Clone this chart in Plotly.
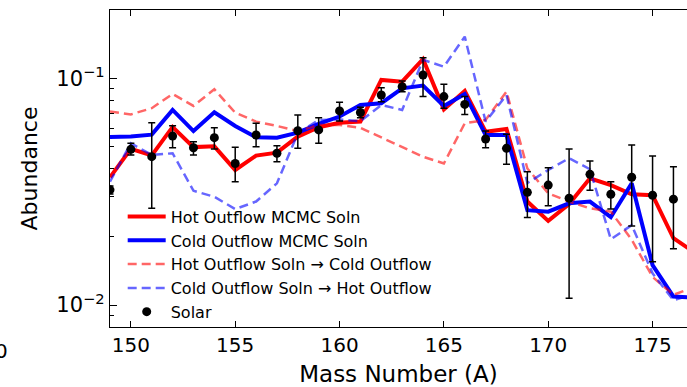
import plotly.graph_objects as go

# Mass numbers
mass_lines = list(range(149, 178))
mass_solar = list(range(149, 177))

# Solar r-process abundances with asymmetric uncertainties
solar = [0.0322, 0.0486, 0.0451, 0.0556, 0.0494, 0.0547, 0.0421, 0.0562, 0.0467, 0.0587,
         0.0592, 0.0718, 0.0706, 0.0844, 0.0918, 0.1034, 0.0830, 0.0767, 0.0540, 0.0491,
         0.0314, 0.0338, 0.0296, 0.0377, 0.0308, 0.0366, 0.0305, 0.0293]
solar_hi = [0.0335, 0.0517, 0.0637, 0.0618, 0.0525, 0.0605, 0.0496, 0.0633, 0.0504, 0.0689,
            0.0670, 0.0784, 0.0745, 0.0909, 0.0973, 0.1233, 0.0941, 0.0830, 0.0586, 0.0567,
            0.0387, 0.0403, 0.0488, 0.0432, 0.0350, 0.0508, 0.0454, 0.0407]
solar_lo = [0.0309, 0.0459, 0.0267, 0.0494, 0.0459, 0.0488, 0.0350, 0.0499, 0.0428, 0.0491,
            0.0517, 0.0648, 0.0670, 0.0788, 0.0873, 0.0830, 0.0738, 0.0693, 0.0494, 0.0418,
            0.0243, 0.0274, 0.0107, 0.0321, 0.0265, 0.0223, 0.0155, 0.0177]

# Model abundance patterns
hot_mcmc = [0.0366, 0.0488, 0.0457, 0.0610, 0.0497, 0.0501, 0.0394, 0.0456, 0.0470, 0.0553,
            0.0608, 0.0637, 0.0644, 0.0983, 0.0966, 0.1213, 0.0729, 0.0879, 0.0581, 0.0597,
            0.0286, 0.0235, 0.0279, 0.0362, 0.0338, 0.0308, 0.0305, 0.0197, 0.0171]
cold_mcmc = [0.0551, 0.0553, 0.0564, 0.0725, 0.0585, 0.0708, 0.0616, 0.0549, 0.0547, 0.0576,
             0.0629, 0.0678, 0.0762, 0.0776, 0.0903, 0.0928, 0.0755, 0.0853, 0.0562, 0.0562,
             0.0262, 0.0258, 0.0281, 0.0286, 0.0244, 0.0344, 0.0150, 0.0109, 0.0108]
hot_to_cold = [0.0713, 0.0693, 0.0738, 0.0853, 0.0755, 0.0894, 0.0705, 0.0644, 0.0616, 0.0585,
               0.0622, 0.0622, 0.0605, 0.0549, 0.0495, 0.0451, 0.0421, 0.0633, 0.0655, 0.0873,
               0.0400, 0.0311, 0.0286, 0.0267, 0.0258, 0.0194, 0.0133, 0.0111, 0.0120]
cold_to_hot = [0.0350, 0.0517, 0.0459, 0.0467, 0.0319, 0.0300, 0.0265, 0.0286, 0.0344, 0.0572,
               0.0655, 0.0658, 0.0647, 0.0762, 0.0725, 0.1205, 0.1125, 0.1526, 0.0644, 0.0844,
               0.0345, 0.0394, 0.0444, 0.0397, 0.0195, 0.0225, 0.0138, 0.0105, 0.0112]

FONT = "DejaVu Sans"

fig = go.Figure()
fig.add_trace(go.Scatter(x=mass_lines, y=hot_mcmc, mode="lines", name="Hot Outflow MCMC Soln",
                         line=dict(color="#ff0000", width=4)))
fig.add_trace(go.Scatter(x=mass_lines, y=cold_mcmc, mode="lines", name="Cold Outflow MCMC Soln",
                         line=dict(color="#0000ff", width=4)))
fig.add_trace(go.Scatter(x=mass_lines, y=hot_to_cold, mode="lines",
                         name="Hot Outflow Soln \u2192 Cold Outflow",
                         line=dict(color="rgba(255,0,0,0.6)", width=2.5, dash="9px,5px")))
fig.add_trace(go.Scatter(x=mass_lines, y=cold_to_hot, mode="lines",
                         name="Cold Outflow Soln \u2192 Hot Outflow",
                         line=dict(color="rgba(0,0,255,0.6)", width=2.5, dash="9px,5px")))
fig.add_trace(go.Scatter(
    x=mass_solar, y=solar, mode="markers", name="Solar",
    marker=dict(color="black", size=9),
    error_y=dict(type="data", symmetric=False,
                 array=[h - v for h, v in zip(solar_hi, solar)],
                 arrayminus=[v - l for v, l in zip(solar, solar_lo)],
                 color="black", thickness=1.5, width=3.5),
))

fig.update_layout(
    width=687, height=387,
    margin=dict(l=110, r=0, t=10, b=60),
    paper_bgcolor="white", plot_bgcolor="white",
    font=dict(family=FONT, color="black", size=19),
    showlegend=True,
    legend=dict(x=0.022, y=-0.005, xanchor="left", yanchor="bottom",
                bgcolor="rgba(0,0,0,0)", borderwidth=0, itemwidth=38,
                font=dict(family=FONT, size=16), tracegroupgap=0),
    xaxis=dict(range=[149, 176.65], tickvals=[150, 155, 160, 165, 170, 175],
               ticks="inside", ticklen=6, tickcolor="black", showline=True, linecolor="black",
               linewidth=1.2, mirror="ticks", showgrid=False, zeroline=False,
               tickfont=dict(size=20),
               title=dict(text="Mass Number (A)", font=dict(size=23), standoff=12)),
    yaxis=dict(type="log", range=[-2.0969, -0.69897],
               tickvals=[0.01, 0.1], ticktext=["10<sup>\u22122</sup>", "10<sup>\u22121</sup>"],
               ticks="inside", ticklen=7, tickcolor="black", showline=True, linecolor="black",
               linewidth=1.2, showgrid=False, zeroline=False, tickfont=dict(size=21),
               minor=dict(tickvals=[0.008, 0.009, 0.02, 0.03, 0.04, 0.05, 0.06, 0.07, 0.08,
                                    0.09, 0.2],
                          ticks="inside", ticklen=4, tickcolor="black", showgrid=False),
               title=dict(text="Abundance", font=dict(size=22), standoff=12)),
)

# Partial tick label of a neighbouring panel at the lower left
fig.add_annotation(text="0", xref="paper", yref="paper", x=-0.173, y=-0.076,
                   xanchor="right", yanchor="middle", showarrow=False,
                   font=dict(family=FONT, size=20, color="black"))

fig.write_html("out.html")
